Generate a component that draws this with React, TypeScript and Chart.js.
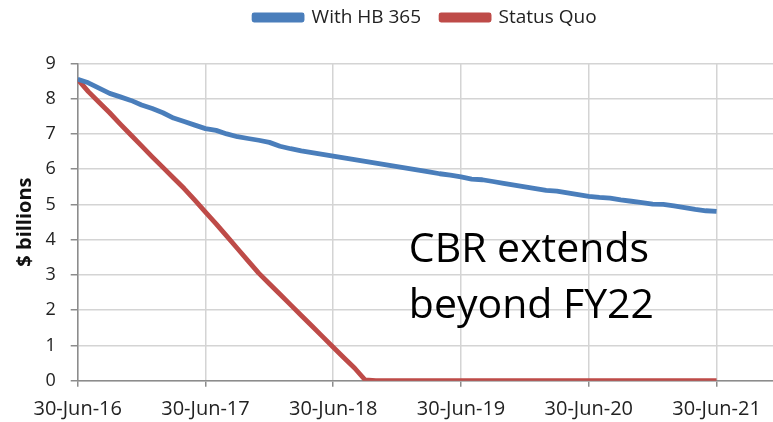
import React, { useEffect, useRef } from "react";
import { Chart, registerables } from "chart.js";

Chart.register(...registerables);

// ---- data ----
const xTickLabels = ["30-Jun-16", "30-Jun-17", "30-Jun-18", "30-Jun-19", "30-Jun-20", "30-Jun-21"];
const monthsPerTick = 12;
const xMaxMonth = 65.3;

const withHB365 = [
  8.55, 8.45, 8.3, 8.15, 8.05, 7.95, 7.82, 7.72, 7.6, 7.45, 7.35, 7.25,
  7.15, 7.1, 7.0, 6.92, 6.87, 6.82, 6.76, 6.65, 6.58, 6.52, 6.47, 6.42,
  6.37, 6.32, 6.27, 6.22, 6.17, 6.12, 6.07, 6.02, 5.97, 5.92, 5.87, 5.83,
  5.78, 5.72, 5.7, 5.65, 5.6, 5.55, 5.5, 5.45, 5.4, 5.38, 5.33, 5.28,
  5.23, 5.2, 5.18, 5.13, 5.09, 5.05, 5.01, 5.0, 4.96, 4.91, 4.86, 4.82,
  4.8,
];

const statusQuo = [
  8.55, 8.2, 7.9, 7.6, 7.28, 6.97, 6.66, 6.35, 6.05, 5.75, 5.45, 5.12,
  4.78, 4.45, 4.1, 3.75, 3.4, 3.05, 2.75, 2.45, 2.15, 1.85, 1.55, 1.25,
  0.95, 0.65, 0.36, 0.02, 0, 0, 0, 0, 0, 0, 0, 0,
  0, 0, 0, 0, 0, 0, 0, 0, 0, 0, 0, 0,
  0, 0, 0, 0, 0, 0, 0, 0, 0, 0, 0, 0,
  0,
];

const seriesNames = ["With HB 365", "Status Quo"];
const seriesColors = ["#4A7EBB", "#BE4B48"];
const yTitle = "$ billions";
const annotationLines = ["CBR extends", "beyond FY22"];
// annotation anchor in data units (month, value) for each line's baseline
const annotationX = 31.1;
const annotationY = [3.37, 1.77];

const annotationPlugin = {
  id: "cbrAnnotation",
  afterDatasetsDraw(chart: any) {
    const { ctx, scales } = chart;
    const x = scales.x.getPixelForValue(annotationX);
    ctx.save();
    ctx.font = "41px 'Open Sans'";
    ctx.fillStyle = "#000";
    ctx.textAlign = "left";
    ctx.textBaseline = "alphabetic";
    annotationLines.forEach((t, i) => {
      ctx.fillText(t, x, scales.y.getPixelForValue(annotationY[i]));
    });
    ctx.restore();
  },
};

export default function App() {
  const ref = useRef<HTMLCanvasElement>(null);
  useEffect(() => {
    document.body.style.margin = "0";
    const toPoints = (arr: number[]) => arr.map((v, i) => ({ x: i, y: v }));
    const chart = new Chart(ref.current!, {
      type: "line",
      data: {
        datasets: [withHB365, statusQuo].map((arr, i) => ({
          label: seriesNames[i],
          data: toPoints(arr),
          borderColor: seriesColors[i],
          backgroundColor: seriesColors[i],
          borderWidth: 4.8,
          pointRadius: 0,
          tension: 0,
          borderJoinStyle: "round" as const,
          fill: false,
        })),
      },
      options: {
        animation: false,
        responsive: false,
        layout: { padding: { top: -12, left: 0, right: 0, bottom: 0 } },
        plugins: {
          legend: {
            position: "top",
            fullSize: false,
            labels: {
              boxWidth: 48,
              boxHeight: 5,
              padding: 20,
              color: "#222",
              font: { family: "'Open Sans'", size: 19 },
            },
          },
          subtitle: {
            display: true,
            text: "",
            position: "top",
            fullSize: false,
            weight: 500,
            font: { size: 10 },
            padding: { top: 0, bottom: 14.4 },
          },
          tooltip: { enabled: false },
        },
        scales: {
          x: {
            type: "linear",
            min: 0,
            max: xMaxMonth,
            afterBuildTicks: (s: any) => {
              s.ticks = xTickLabels.map((_, i) => ({ value: i * monthsPerTick }));
            },
            afterFit: (s: any) => {
              s.height = 41.3;
            },
            ticks: {
              maxRotation: 0,
              autoSkip: false,
              padding: 11,
              color: "#222",
              font: { family: "'Open Sans'", size: 20 },
              callback: (v: any) => xTickLabels[Math.round(Number(v) / monthsPerTick)] ?? "",
            },
            grid: { color: "#D4D4D4", lineWidth: 1.5, tickLength: 6, tickColor: "#8C8C8C" },
            border: { color: "#8C8C8C", width: 1.5 },
          },
          y: {
            min: 0,
            max: 9,
            afterFit: (s: any) => {
              s.width = 77.7;
            },
            ticks: {
              stepSize: 1,
              padding: 15,
              color: "#222",
              font: { family: "'Open Sans'", size: 18 },
            },
            title: {
              display: true,
              text: yTitle,
              color: "#111",
              font: { family: "'Open Sans'", size: 20, weight: "bold" },
              padding: { top: 13, bottom: 0 },
            },
            grid: { color: "#D4D4D4", lineWidth: 1.5, tickLength: 7, tickColor: "#8C8C8C" },
            border: { color: "#8C8C8C", width: 1.5 },
          },
        },
      },
      plugins: [annotationPlugin],
    } as any);
    return () => chart.destroy();
  }, []);
  return (
    <div style={{ width: 773, height: 422 }}>
      <canvas ref={ref} width={773} height={422} />
    </div>
  );
}
